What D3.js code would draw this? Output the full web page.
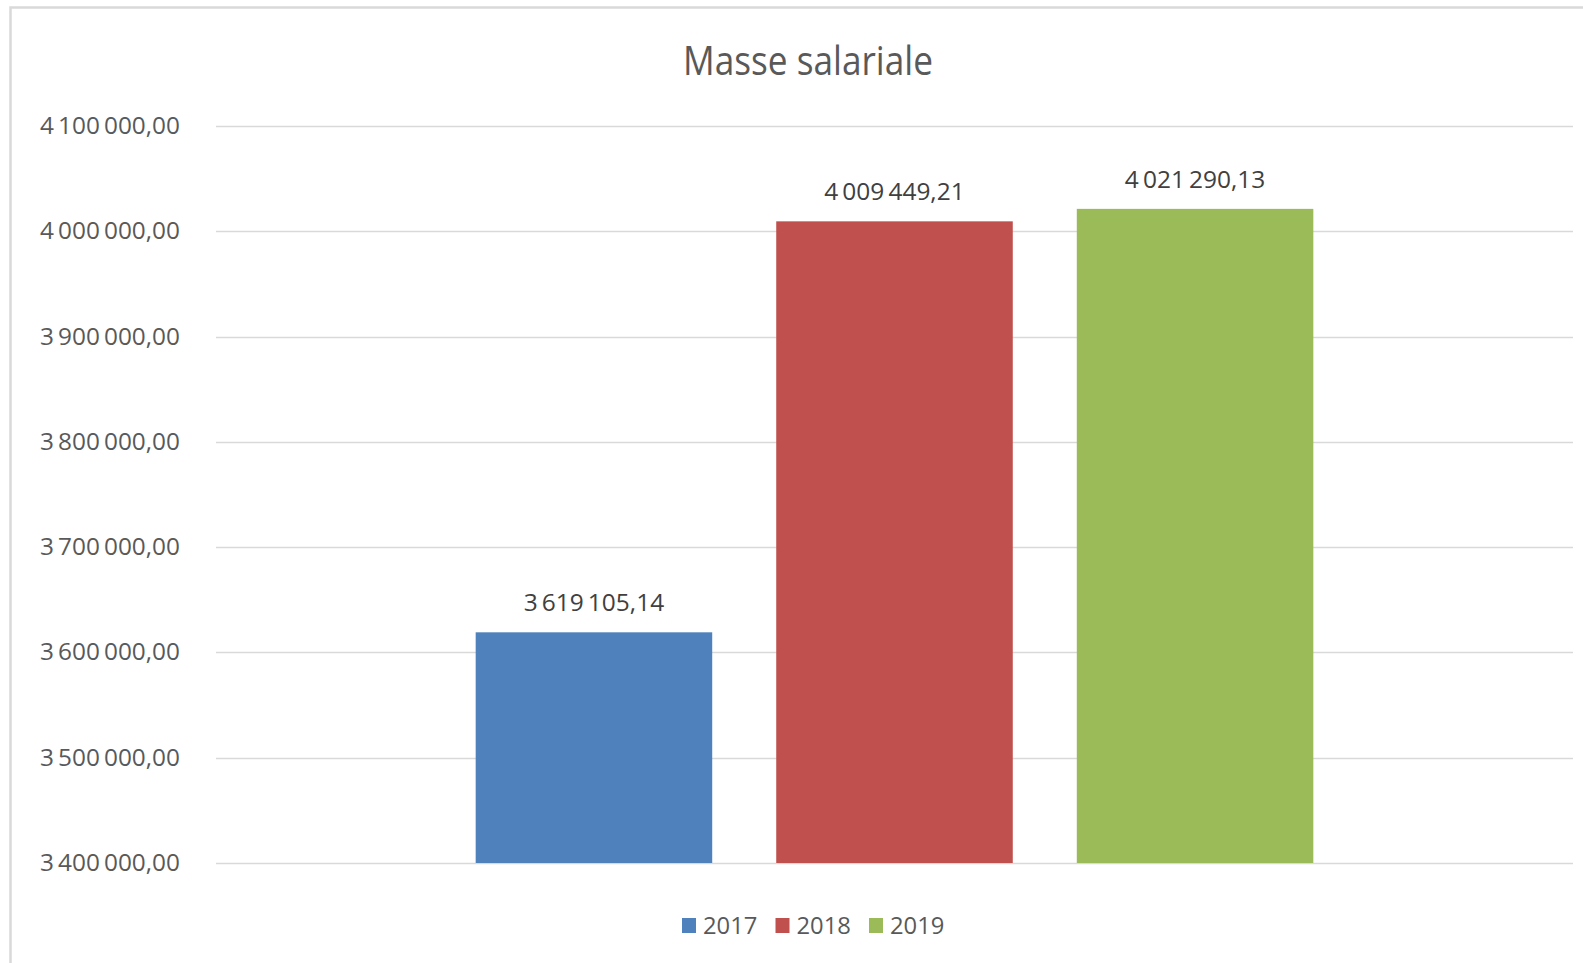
<html lang="fr">
  <head>
    <meta charset="UTF-8" />
    <title>Masse salariale</title>
    <script src="https://d3js.org/d3.v7.min.js"></script>
    <style>
      * {
        margin: 0;
        padding: 0;
      }
      body {
        background: #fff;
      }
    </style>
  </head>
  <body>
    <div id="chart"></div>
    <script>
      // data
      const title = "Masse salariale";
      const years = ["2017", "2018", "2019"];
      const values = [3619105.14, 4009449.21, 4021290.13];
      const colors = ["#4F81BD", "#C0504D", "#9BBB59"];
      const yTicks = [3400000, 3500000, 3600000, 3700000, 3800000, 3900000, 4000000, 4100000];

      const width = 1583;
      const height = 963;
      const MARGIN = { left: 216, right: 10, top: 126, bottom: 100 };

      const FONT = "'Open Sans', 'Liberation Sans', sans-serif";
      const TEXT = "#595959";

      const fr = d3.formatLocale({
        decimal: ",",
        thousands: "\u2009",
        grouping: [3],
        currency: ["", " €"],
      });
      const fmt = fr.format(",.2f");

      // stretch / squeeze text to mimic the original font width
      function condense(sel, k) {
        sel.each(function () {
          const w = this.getComputedTextLength();
          d3.select(this)
            .attr("textLength", w * k)
            .attr("lengthAdjust", "spacingAndGlyphs");
        });
      }

      const svg = d3
        .select("#chart")
        .append("svg")
        .attr("width", width)
        .attr("height", height);

      svg.append("rect").attr("width", width).attr("height", height).attr("fill", "#fff");

      // chart frame (only top + left visible)
      svg
        .append("rect")
        .attr("x", 10.5)
        .attr("y", 7.5)
        .attr("width", width + 20)
        .attr("height", height + 20)
        .attr("fill", "none")
        .attr("stroke", "#d9d9d9")
        .attr("stroke-width", 2.5);

      const y = d3
        .scaleLinear()
        .domain([yTicks[0], yTicks[yTicks.length - 1]])
        .range([863, MARGIN.top]);

      const x = d3
        .scaleBand()
        .domain(years)
        .range([MARGIN.left, width - MARGIN.right])
        .paddingInner(0.213)
        .paddingOuter(0.864);

      // gridlines
      svg
        .append("g")
        .selectAll("line")
        .data(yTicks)
        .join("line")
        .attr("x1", MARGIN.left)
        .attr("x2", width - MARGIN.right)
        .attr("y1", (d) => Math.round(y(d)) + 0.5)
        .attr("y2", (d) => Math.round(y(d)) + 0.5)
        .attr("stroke", "#d9d9d9")
        .attr("stroke-width", 1.5);

      // y labels
      const yl = svg
        .append("g")
        .selectAll("text")
        .data(yTicks)
        .join("text")
        .attr("x", 180)
        .attr("y", (d) => y(d) + 8)
        .attr("text-anchor", "end")
        .attr("font-family", FONT)
        .attr("font-size", 23)
        .attr("fill", TEXT)
        .text((d) => fmt(d));
      condense(yl, 1.06);

      // bars
      svg
        .append("g")
        .selectAll("rect")
        .data(values)
        .join("rect")
        .attr("x", (d, i) => x(years[i]))
        .attr("width", x.bandwidth())
        .attr("y", (d) => y(d))
        .attr("height", (d) => y(yTicks[0]) - y(d))
        .attr("fill", (d, i) => colors[i]);

      // value labels
      const vl = svg
        .append("g")
        .selectAll("text")
        .data(values)
        .join("text")
        .attr("x", (d, i) => x(years[i]) + x.bandwidth() / 2)
        .attr("y", (d) => y(d) - 21)
        .attr("text-anchor", "middle")
        .attr("font-family", FONT)
        .attr("font-size", 24)
        .attr("fill", "#404040")
        .text((d) => fmt(d));
      condense(vl, 1.02);

      // title
      const t = svg
        .append("text")
        .attr("x", 808)
        .attr("y", 75)
        .attr("text-anchor", "middle")
        .attr("font-family", FONT)
        .attr("font-size", 40)
        .attr("fill", TEXT)
        .text(title);
      condense(t, 0.88);

      // legend
      const legend = svg
        .append("g")
        .selectAll("g")
        .data(years)
        .join("g")
        .attr("transform", (d, i) => `translate(${682 + i * 93.5}, 918)`);

      legend
        .append("rect")
        .attr("width", 14)
        .attr("height", 15)
        .attr("fill", (d, i) => colors[i]);

      const lt = legend
        .append("text")
        .attr("x", 21)
        .attr("y", 16)
        .attr("font-family", FONT)
        .attr("font-size", 24)
        .attr("fill", TEXT)
        .text((d) => d);
      condense(lt, 0.99);
    </script>
  </body>
</html>
